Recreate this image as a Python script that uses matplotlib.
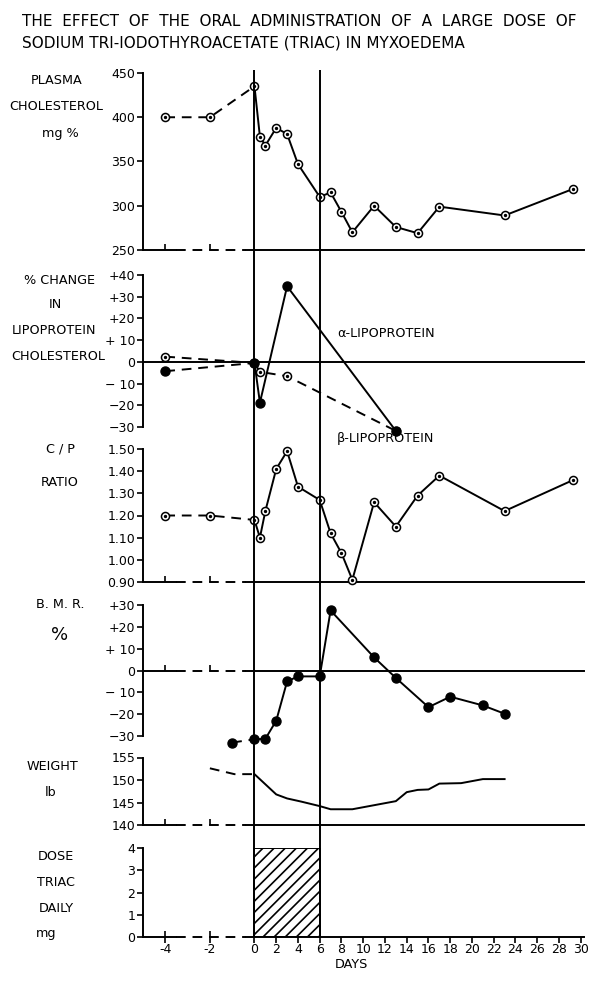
import numpy as np
import matplotlib
matplotlib.use('Agg')
import matplotlib.pyplot as plt

plt.rcParams['font.family'] = 'DejaVu Sans'
plt.rcParams['hatch.linewidth'] = 1.2

# values, x = days from start of Triac
lipid_days = [-4, -2, 0, 0.5, 1, 2, 3, 4, 6, 7, 8, 9, 11, 13, 15, 17, 23, 29.3]
cholesterol = [400, 400, 435, 378, 368, 388, 381, 347, 310, 315, 293, 270, 300, 276, 269, 299, 289, 319]
cp_ratio = [1.20, 1.20, 1.18, 1.10, 1.22, 1.41, 1.49, 1.33, 1.27, 1.12, 1.03, 0.91, 1.26, 1.15, 1.29, 1.38, 1.22, 1.36]

lipo_days = [-4, 0, 0.5, 3, 13]
alpha_change = [-4.3, -0.5, -18.8, 34.8, -31.8]
beta_change = [2.4, -0.5, -4.6, -6.6, -31.8]

bmr_days = [-1, 0, 1, 2, 3, 4, 6, 7, 11, 13, 16, 18, 21, 23]
bmr = [-33, -31.5, -31.3, -23, -5, -2.7, -2.7, 27.5, 6, -3.4, -16.8, -12, -16, -19.8]

weight_days = [-2, -0.9, 0, 2, 3, 4.3, 6, 7, 9, 11, 13, 14, 15, 16, 17, 19, 21, 23]
weight = [152.6, 151.3, 151.3, 146.8, 145.9, 145.2, 144.2, 143.5, 143.5, 144.4,
          145.3, 147.3, 147.8, 147.9, 149.2, 149.3, 150.2, 150.2]

dose_start, dose_length, dose_mg = 0, 6, 4

day_ticks = list(range(-4, 31, 2))

# the pre-treatment days are drawn on a stretched scale
NEG = 2.05
def fwd(x):
    x = np.asarray(x, dtype=float)
    return np.where(x < 0, x * NEG, x)
def inv(s):
    s = np.asarray(s, dtype=float)
    return np.where(s < 0, s / NEG, s)

LW = 1.4
DASH = (0, (5, 3.5))
LABEL_SIZE = 9.2
W, H = 593, 981
AX_L, AX_R = 143, 584
XLIM = (-5.0, 30.3)

fig = plt.figure(figsize=(W / 100, H / 100), dpi=100)


def add_panel(top, bottom, ylim, ticks, labels):
    ax = fig.add_axes([AX_L / W, 1 - bottom / H, (AX_R - AX_L) / W, (bottom - top) / H])
    ax.set_xscale('function', functions=(fwd, inv))
    ax.set_xlim(*XLIM)
    ax.set_ylim(*ylim)
    ax.patch.set_alpha(0)
    for s in ('top', 'right', 'bottom'):
        ax.spines[s].set_visible(False)
    ax.spines['left'].set_linewidth(LW)
    ax.set_yticks(ticks, labels=labels)
    ax.tick_params(axis='y', direction='out', length=4, width=1.2, pad=1.5, labelsize=9)
    ax.tick_params(axis='x', bottom=False, labelbottom=False)
    return ax


def baseline(ax, y, gap=True, ticks=True):
    x0, x1 = XLIM
    if gap:
        ax.plot([x0, -3.5], [y, y], color='k', lw=LW, clip_on=False)
        ax.plot([-3.5, -0.4], [y, y], color='k', lw=LW, ls=DASH, clip_on=False)
        ax.plot([-0.4, x1], [y, y], color='k', lw=LW, clip_on=False)
    else:
        ax.plot([x0, x1], [y, y], color='k', lw=LW, clip_on=False)
    if ticks:
        ax.plot([-4, -2], [y, y], ls='none', marker=2, ms=4, mew=1.2, color='k', clip_on=False)


def points(ax, x, y, filled):
    if filled:
        ax.plot(x, y, 'o', ms=6.5, color='k', zorder=4, clip_on=False)
    else:
        ax.plot(x, y, 'o', ms=5.8, mfc='white', mec='k', mew=1.1, zorder=4, clip_on=False)
        ax.plot(x, y, 'o', ms=1.4, color='k', zorder=5, clip_on=False)


def series(ax, x, y, split, filled, solid=True):
    ax.plot(x[:split + 1], y[:split + 1], color='k', lw=LW, ls=DASH, clip_on=False)
    ax.plot(x[split:], y[split:], color='k', lw=LW, ls='-' if solid else DASH, clip_on=False)
    points(ax, x, y, filled)


def label(x, y, s, size=LABEL_SIZE):
    fig.text(x / W, 1 - y / H, s, ha='center', va='center', fontsize=size)


# title
fig.text(22 / W, 1 - 21 / H, 'THE  EFFECT  OF  THE  ORAL  ADMINISTRATION  OF  A  LARGE  DOSE  OF',
         ha='left', va='center', fontsize=11)
fig.text(22 / W, 1 - 43 / H, 'SODIUM TRI-IODOTHYROACETATE (TRIAC) IN MYXOEDEMA',
         ha='left', va='center', fontsize=11)

# plasma cholesterol
ax1 = add_panel(73, 250, (250, 450), [250, 300, 350, 400, 450],
                ['250', '300', '350', '400', '450'])
baseline(ax1, 250)
series(ax1, lipid_days, cholesterol, 2, filled=False)
label(57, 81, 'PLASMA')
label(56, 107, 'CHOLESTEROL')
label(60, 133, 'mg %')

# lipoprotein cholesterol
ax2 = add_panel(275, 427, (-30, 40), [40, 30, 20, 10, 0, -10, -20, -30],
                ['+40', '+30', '+20', '+ 10', '0', '− 10', '−20', '−30'])
baseline(ax2, 0, gap=False, ticks=False)
series(ax2, lipo_days, beta_change, 1, filled=False, solid=False)
series(ax2, lipo_days, alpha_change, 1, filled=True)
ax2.text(7.6, 12.9, 'α-LIPOPROTEIN', ha='left', va='center', fontsize=LABEL_SIZE)
ax2.text(7.6, -35.5, 'β-LIPOPROTEIN', ha='left', va='center', fontsize=LABEL_SIZE, clip_on=False)
label(59, 280, '% CHANGE')
label(55, 305, 'IN')
label(54, 331, 'LIPOPROTEIN')
label(58, 357, 'CHOLESTEROL')

# C/P ratio
ax3 = add_panel(449, 582, (0.9, 1.5), [0.9, 1.0, 1.1, 1.2, 1.3, 1.4, 1.5],
                ['0.90', '1.00', '1.10', '1.20', '1.30', '1.40', '1.50'])
baseline(ax3, 0.9)
series(ax3, lipid_days, cp_ratio, 2, filled=False)
label(60, 449, 'C / P')
label(60, 483, 'RATIO')

# B.M.R.
ax4 = add_panel(605, 736, (-30, 30), [30, 20, 10, 0, -10, -20, -30],
                ['+30', '+20', '+ 10', '0', '− 10', '−20', '−30'])
baseline(ax4, 0)
series(ax4, bmr_days, bmr, 1, filled=True)
label(60, 605, 'B. M. R.')
label(60, 635, '%', size=13)

# weight
ax5 = add_panel(757.5, 825, (140, 155), [140, 145, 150, 155], ['140', '145', '150', '155'])
baseline(ax5, 140)
ax5.plot(weight_days[:3], weight[:3], color='k', lw=LW, ls=DASH)
ax5.plot(weight_days[2:], weight[2:], color='k', lw=LW)
label(52, 767, 'WEIGHT')
label(51, 793, 'lb')

# Triac dose
ax6 = add_panel(848, 937, (0, 4), [0, 1, 2, 3, 4], ['0', '1', '2', '3', '4'])
baseline(ax6, 0)
ax6.bar(dose_start, dose_mg, width=dose_length, align='edge', facecolor='white',
        edgecolor='k', lw=LW, hatch='///')
ax6.set_xticks(day_ticks, labels=[str(d) for d in day_ticks])
ax6.tick_params(axis='x', bottom=True, labelbottom=True, direction='out', length=4,
                width=1.2, pad=0.5, labelsize=9)
label(56, 856, 'DOSE')
label(56, 882, 'TRIAC')
label(56, 908, 'DAILY')
label(46, 933, 'mg')
label(351, 964, 'DAYS')

# start and end of treatment, running through all panels
axv = fig.add_axes([AX_L / W, 1 - 937 / H, (AX_R - AX_L) / W, (937 - 70) / H])
axv.set_xscale('function', functions=(fwd, inv))
axv.set_xlim(*XLIM)
axv.axis('off')
for d in (dose_start, dose_start + dose_length):
    axv.axvline(d, color='k', lw=LW)

fig.savefig('out.png', dpi=100, facecolor='white')
